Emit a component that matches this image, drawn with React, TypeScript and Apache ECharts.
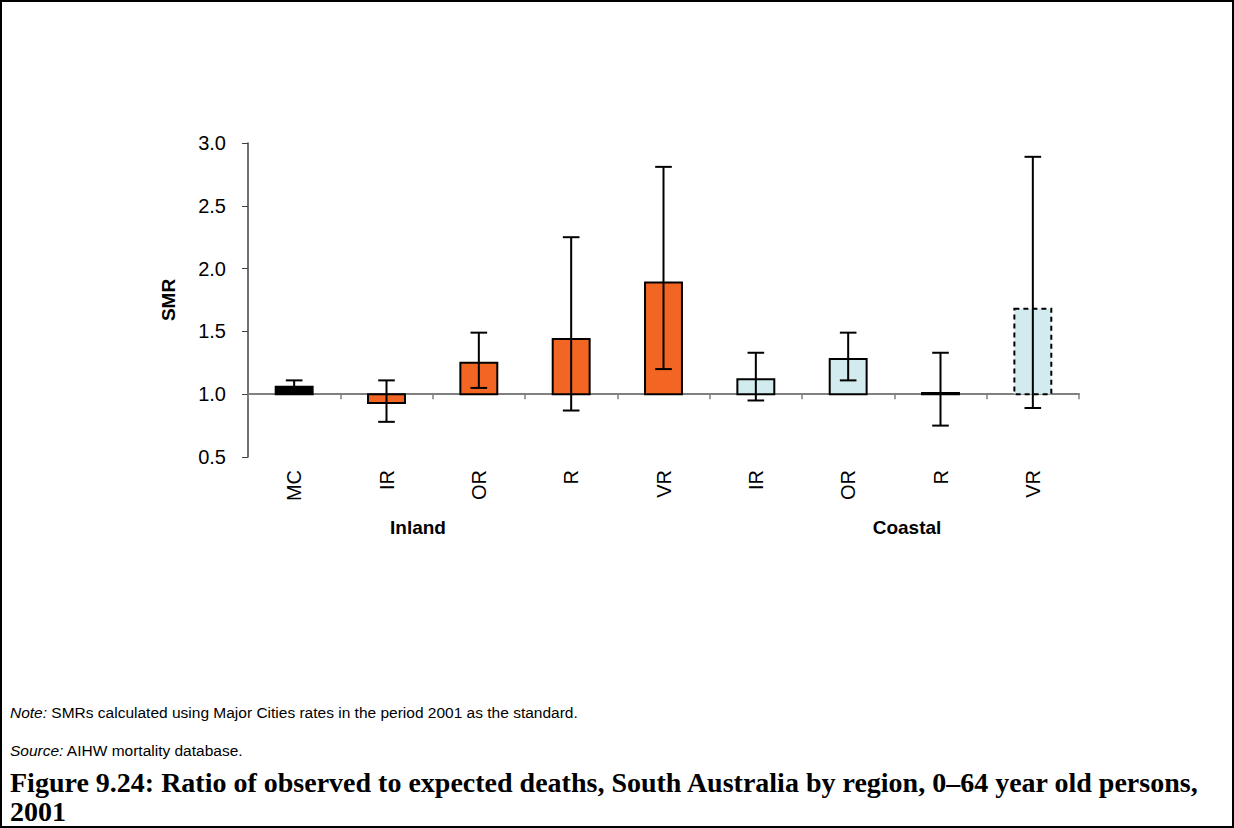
import React, { useEffect, useRef } from "react";
import * as echarts from "echarts";

const categories = ["MC", "IR", "OR", "R", "VR", "IR", "OR", "R", "VR"];
const groups = ["MC", "Inland", "Inland", "Inland", "Inland", "Coastal", "Coastal", "Coastal", "Coastal"];
const smr = [1.06, 0.93, 1.25, 1.44, 1.89, 1.12, 1.28, 1.01, 1.68];
const ciLower = [1.01, 0.78, 1.05, 0.87, 1.2, 0.95, 1.11, 0.75, 0.89];
const ciUpper = [1.11, 1.11, 1.49, 2.25, 2.81, 1.33, 1.49, 1.33, 2.89];
const dashedBars = [8];
const yMin = 0.5;
const yMax = 3.0;
const yStep = 0.5;
const refLine = 1.0;
const groupLabels = ["Inland", "Coastal"];
const noteText = "SMRs calculated using Major Cities rates in the period 2001 as the standard.";
const sourceText = "AIHW mortality database.";
const titleLines = [
  "Figure 9.24: Ratio of observed to expected deaths, South Australia by region, 0\u201364 year old persons,",
  "2001",
];

const groupColors: Record<string, string> = {
  MC: "#000000",
  Inland: "#F26522",
  Coastal: "#D2EBEF",
};

const W = 1234;
const H = 828;
const GRID = { left: 248, right: W - 1079, top: 143, bottom: H - 457 };
const SANS = "Liberation Sans, Arial, sans-serif";
const SERIF = "'Liberation Serif', 'Times New Roman', serif";

export default function App() {
  const ref = useRef<HTMLDivElement>(null);
  useEffect(() => {
    if (!ref.current) return;
    const chart = echarts.init(ref.current, null, { renderer: "svg" });
    const gridH = H - GRID.top - GRID.bottom;
    const baseOffset = -((refLine - yMin) / (yMax - yMin)) * gridH;

    const option: any = {
      animation: false,
      backgroundColor: "#ffffff",
      grid: { ...GRID, containLabel: false },
      xAxis: [
        {
          type: "category",
          data: categories,
          position: "bottom",
          axisLine: { show: false },
          axisTick: { show: false },
          axisLabel: {
            rotate: 90,
            margin: 13,
            fontSize: 20,
            color: "#000",
            fontFamily: SANS,
          },
        },
        {
          type: "category",
          data: categories,
          position: "bottom",
          offset: baseOffset,
          axisLine: { show: true, lineStyle: { color: "#808080", width: 2 } },
          axisTick: { show: true, length: 5, lineStyle: { color: "#808080", width: 1.5 } },
          axisLabel: { show: false },
        },
      ],
      yAxis: {
        type: "value",
        min: yMin,
        max: yMax,
        interval: yStep,
        name: "SMR",
        nameLocation: "middle",
        nameGap: 70,
        nameRotate: 90,
        nameTextStyle: { fontSize: 19, fontWeight: "bold", color: "#000", fontFamily: SANS },
        axisLine: { show: true, lineStyle: { color: "#404040", width: 1.5 } },
        axisTick: { show: true, length: 6, lineStyle: { color: "#404040" } },
        splitLine: { show: false },
        axisLabel: {
          fontSize: 20,
          color: "#000",
          margin: 22,
          fontFamily: SANS,
          formatter: (v: number) => v.toFixed(1),
        },
      },
      series: [
        {
          type: "custom",
          xAxisIndex: 0,
          z: 3,
          data: smr.map((v, i) => [i, v]),
          renderItem: (params: any, api: any) => {
            const i = api.value(0);
            const v = api.value(1);
            const base = api.coord([i, refLine]);
            const top = api.coord([i, v]);
            const bw = api.size([1, 0])[0] * 0.4;
            const dashed = dashedBars.includes(i);
            return {
              type: "rect",
              shape: {
                x: base[0] - bw / 2,
                y: Math.min(base[1], top[1]),
                width: bw,
                height: Math.max(Math.abs(base[1] - top[1]), 1),
              },
              style: {
                fill: groupColors[groups[i]],
                stroke: "#000",
                lineWidth: 2,
                lineDash: dashed ? [5, 4] : null,
              },
            };
          },
        },
        {
          type: "custom",
          xAxisIndex: 0,
          z: 4,
          data: ciLower.map((lo, i) => [i, lo, ciUpper[i]]),
          renderItem: (params: any, api: any) => {
            const i = api.value(0);
            const lo = api.coord([i, api.value(1)]);
            const hi = api.coord([i, api.value(2)]);
            const cap = api.size([1, 0])[0] * 0.18;
            const st = { stroke: "#000", lineWidth: 2 };
            return {
              type: "group",
              children: [
                { type: "line", shape: { x1: lo[0], y1: lo[1], x2: hi[0], y2: hi[1] }, style: st },
                { type: "line", shape: { x1: hi[0] - cap / 2, y1: hi[1], x2: hi[0] + cap / 2, y2: hi[1] }, style: st },
                { type: "line", shape: { x1: lo[0] - cap / 2, y1: lo[1], x2: lo[0] + cap / 2, y2: lo[1] }, style: st },
              ],
            };
          },
        },
      ],
      graphic: [
        {
          type: "rect",
          silent: true,
          shape: { x: 1, y: 1, width: W - 2, height: H - 2 },
          style: { fill: "none", stroke: "#000", lineWidth: 2 },
        },
        {
          type: "text",
          x: 418,
          y: 527,
          style: {
            text: groupLabels[0],
            font: `bold 19px ${SANS}`,
            fill: "#000",
            align: "center",
            verticalAlign: "middle",
          },
        },
        {
          type: "text",
          x: 907,
          y: 527,
          style: {
            text: groupLabels[1],
            font: `bold 19px ${SANS}`,
            fill: "#000",
            align: "center",
            verticalAlign: "middle",
          },
        },
        {
          type: "text",
          x: 10,
          y: 712,
          style: {
            text: "{i|Note:} " + noteText,
            fontSize: 15.5,
            fontFamily: SANS,
            fill: "#000",
            verticalAlign: "middle",
            rich: { i: { fontStyle: "italic", fontSize: 15.5, fontFamily: SANS } },
          },
        },
        {
          type: "text",
          x: 10,
          y: 750,
          style: {
            text: "{i|Source:} " + sourceText,
            fontSize: 15.5,
            fontFamily: SANS,
            fill: "#000",
            verticalAlign: "middle",
            rich: { i: { fontStyle: "italic", fontSize: 15.5, fontFamily: SANS } },
          },
        },
        {
          type: "text",
          x: 10,
          y: 782,
          style: {
            text: titleLines[0],
            font: `bold 28px ${SERIF}`,
            fill: "#000",
            verticalAlign: "middle",
          },
        },
        {
          type: "text",
          x: 10,
          y: 811,
          style: {
            text: titleLines[1],
            font: `bold 28px ${SERIF}`,
            fill: "#000",
            verticalAlign: "middle",
          },
        },
      ],
    };
    chart.setOption(option);
    return () => chart.dispose();
  }, []);

  return (
    <div
      ref={ref}
      style={{ position: "absolute", left: 0, top: 0, width: W, height: H, background: "#fff" }}
    />
  );
}
